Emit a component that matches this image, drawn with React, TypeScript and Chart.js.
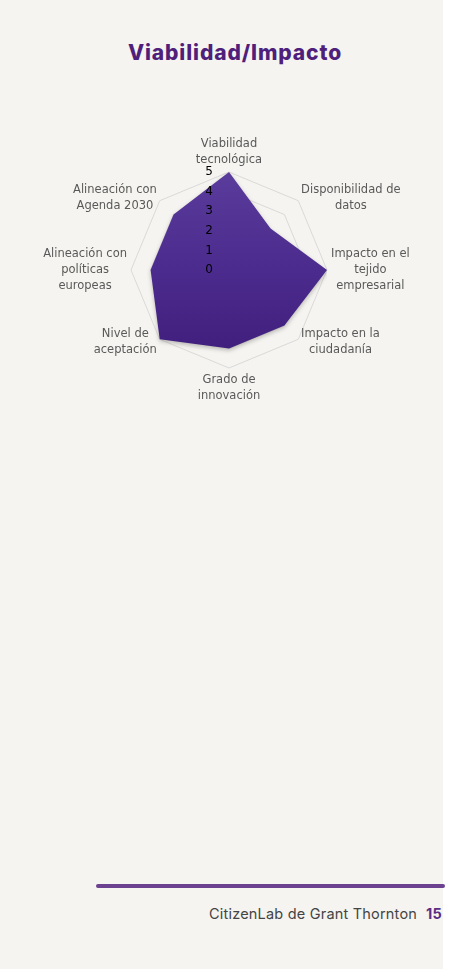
import React, { useEffect, useRef } from "react";
import { Chart, registerables } from "chart.js";

Chart.register(...registerables);

const CATEGORIES: string[][] = [
  ["Viabilidad", "tecnológica"],
  ["Disponibilidad de", "datos"],
  ["Impacto en el", "tejido", "empresarial"],
  ["Impacto en la", "ciudadanía"],
  ["Grado de", "innovación"],
  ["Nivel de", "aceptación"],
  ["Alineación con", "políticas", "europeas"],
  ["Alineación con", "Agenda 2030"],
];
const VALUES: number[] = [5, 3, 5, 4, 4, 5, 4, 4];
const TICK_VALUES: number[] = [0, 1, 2, 3, 4, 5];
const SCALE_MIN = 0;
const SCALE_MAX = 5;

const LABEL_FONT = '11.5px "DejaVu Sans"';
const LABEL_LINE = 16;

const labelPlugin = {
  id: "customRadarText",
  beforeDatasetsDraw(chart: any) {
    chart.ctx.save();
    chart.ctx.shadowColor = "rgba(0,0,0,0.25)";
    chart.ctx.shadowBlur = 4;
    chart.ctx.shadowOffsetY = 2;
  },
  afterDatasetsDraw(chart: any) {
    chart.ctx.restore();
    const scale = chart.scales.r;
    const ctx = chart.ctx;
    ctx.save();
    // tick labels
    ctx.font = '12px "DejaVu Sans"';
    ctx.fillStyle = "#000000";
    ctx.textAlign = "right";
    ctx.textBaseline = "middle";
    TICK_VALUES.forEach((v) => {
      const d = scale.getDistanceFromCenterForValue(v);
      ctx.fillText(String(v), scale.xCenter - 16, scale.yCenter - d);
    });
    // point labels
    ctx.font = LABEL_FONT;
    ctx.fillStyle = "#595959";
    ctx.textAlign = "center";
    const pad = 4;
    CATEGORIES.forEach((lines, i) => {
      const pos = scale.getPointPosition(i, scale.drawingArea + pad);
      let angle = (scale.getIndexAngle(i) * 180) / Math.PI;
      angle = ((angle % 360) + 360) % 360;
      const w = Math.max(...lines.map((l) => ctx.measureText(l).width));
      const h = lines.length * LABEL_LINE;
      const isTop = Math.abs(angle) < 1 || Math.abs(angle - 360) < 1;
      const isBottom = Math.abs(angle - 180) < 1;
      let cx: number;
      if (isTop || isBottom) cx = pos.x;
      else if (angle < 180) cx = pos.x + w / 2;
      else cx = pos.x - w / 2;
      let top: number;
      if (isTop) top = pos.y - h;
      else if (isBottom) top = pos.y;
      else top = pos.y - h / 2;
      lines.forEach((l, j) => {
        ctx.fillText(l, cx, top + LABEL_LINE * j + LABEL_LINE / 2);
      });
    });
    ctx.restore();
  },
};

function RadarChart() {
  const ref = useRef<HTMLCanvasElement>(null);
  useEffect(() => {
    if (!ref.current) return;
    const chart = new Chart(ref.current, {
      type: "radar",
      data: {
        labels: CATEGORIES,
        datasets: [
          {
            data: VALUES,
            backgroundColor: (c: any) => {
              const area = c.chart.chartArea;
              if (!area) return "#4a2a8c";
              const g = c.chart.ctx.createLinearGradient(0, area.top, 0, area.bottom);
              g.addColorStop(0, "#5a3c9c");
              g.addColorStop(0.5, "#4b2b8d");
              g.addColorStop(1, "#3e1c7a");
              return g;
            },
            borderColor: "rgba(0,0,0,0)",
            borderWidth: 0,
            fill: true,
            pointRadius: 0,
            pointHoverRadius: 0,
          },
        ],
      },
      options: {
        animation: false,
        responsive: false,
        maintainAspectRatio: false,
        layout: { padding: { left: 131, right: 122, top: 72, bottom: 52 } },
        plugins: { legend: { display: false }, tooltip: { enabled: false } },
        elements: { line: { tension: 0 } },
        scales: {
          r: {
            min: SCALE_MIN,
            max: SCALE_MAX,
            beginAtZero: true,
            ticks: { display: false, stepSize: 1 },
            pointLabels: { display: false },
            angleLines: { display: false },
            grid: { color: "#d9d9d9", lineWidth: 1 },
          },
        },
      },
      plugins: [labelPlugin],
    });
    return () => chart.destroy();
  }, []);
  return (
    <canvas
      ref={ref}
      width={449}
      height={320}
      style={{ position: "absolute", left: 0, top: 100, width: 449, height: 320 }}
    />
  );
}

export default function App() {
  return (
    <div
      style={{
        position: "fixed",
        left: 0,
        top: 0,
        width: 449,
        height: 969,
        background: "#ffffff",
        overflow: "hidden",
      }}
    >
      <div
        style={{
          position: "absolute",
          left: 0,
          top: 41,
          width: 443,
          height: 0,
        }}
      />
      <div
        style={{
          position: "absolute",
          left: 0,
          top: 0,
          width: 443,
          height: 969,
          background: "#f5f4f0",
        }}
      />
      <div
        style={{
          position: "absolute",
          left: 0,
          top: 41,
          width: 470,
          textAlign: "center",
          fontFamily: "Inter, sans-serif",
          fontWeight: 800,
          fontSize: 21,
          letterSpacing: 0.9,
          lineHeight: "24px",
          color: "#4f1f7b",
          whiteSpace: "nowrap",
        }}
      >
        Viabilidad/Impacto
      </div>
      <RadarChart />
      <div
        style={{
          position: "absolute",
          left: 96,
          top: 884,
          width: 349,
          height: 3.5,
          borderRadius: 2,
          background: "#6b4190",
        }}
      />
      <div
        style={{
          position: "absolute",
          right: 7,
          top: 905,
          fontFamily: "Inter, sans-serif",
          fontSize: 14.5,
          letterSpacing: 0.2,
          lineHeight: "18px",
          color: "#444444",
          whiteSpace: "nowrap",
        }}
      >
        <span>CitizenLab de Grant Thornton</span>
        <span style={{ marginLeft: 9, fontWeight: 700, color: "#5b2c83" }}>15</span>
      </div>
    </div>
  );
}
